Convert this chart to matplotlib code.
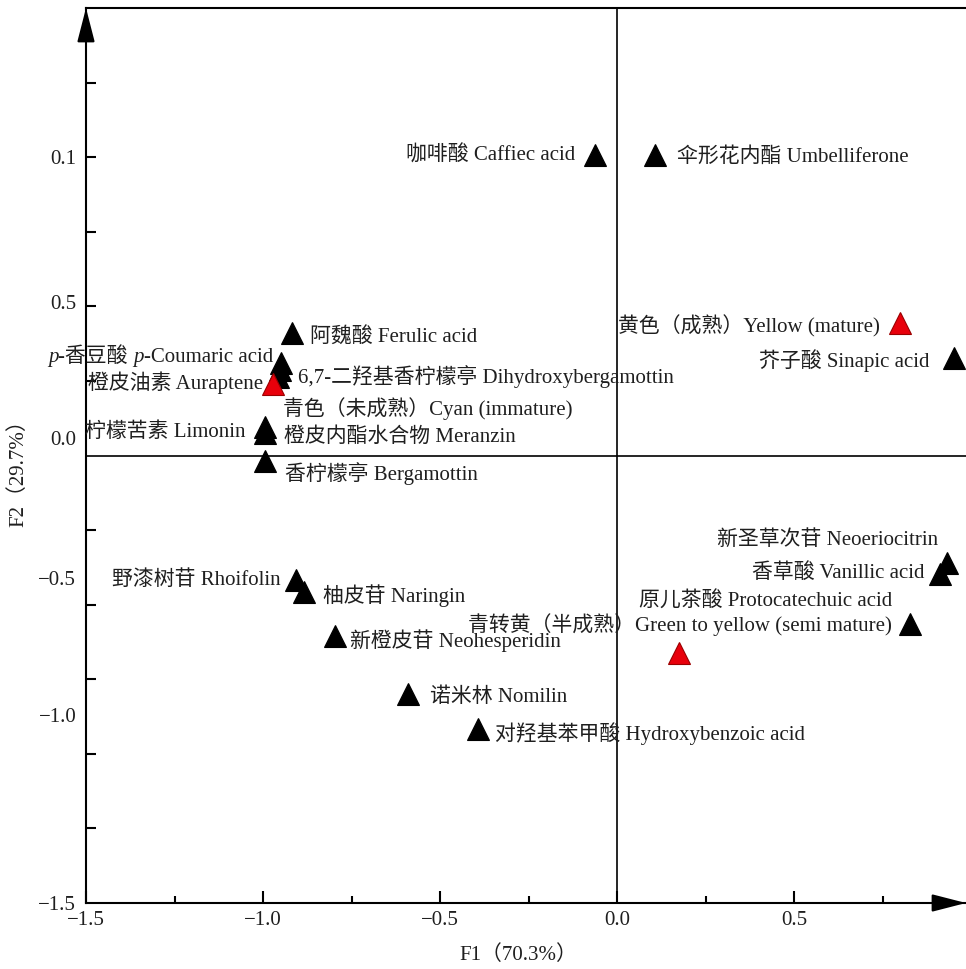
import matplotlib
matplotlib.use('Agg')
import matplotlib.pyplot as plt
from matplotlib.offsetbox import TextArea, HPacker, AnnotationBbox

plt.rcParams['font.family'] = ['Liberation Serif', 'Noto Sans CJK SC']
plt.rcParams['axes.unicode_minus'] = True

# ---------------- data ----------------
compounds = ['咖啡酸 Caffiec acid', '伞形花内酯 Umbelliferone', '阿魏酸 Ferulic acid',
             'p-香豆酸 p-Coumaric acid', '6,7-二羟基香柠檬亭 Dihydroxybergamottin',
             '橙皮油素 Auraptene', '柠檬苦素 Limonin', '橙皮内酯水合物 Meranzin',
             '香柠檬亭 Bergamottin', '芥子酸 Sinapic acid', '新圣草次苷 Neoeriocitrin',
             '香草酸 Vanillic acid', '原儿茶酸 Protocatechuic acid', '野漆树苷 Rhoifolin',
             '柚皮苷 Naringin', '新橙皮苷 Neohesperidin', '诺米林 Nomilin',
             '对羟基苯甲酸 Hydroxybenzoic acid']
compound_f1 = [-0.062, 0.107, -0.919, -0.950, -0.953, -0.959, -0.995, -0.995, -0.995,
               0.950, 0.931, 0.911, 0.826, -0.908, -0.883, -0.798, -0.592, -0.392]
compound_f2 = [1.007, 1.007, 0.409, 0.309, 0.285, 0.262, 0.097, 0.074, -0.020,
               0.326, -0.362, -0.396, -0.564, -0.416, -0.456, -0.604, -0.799, -0.916]

samples = ['青色（未成熟）Cyan (immature)', '黄色（成熟）Yellow (mature)',
           '青转黄（半成熟）Green to yellow (semi mature)']
sample_f1 = [-0.973, 0.798, 0.175]
sample_f2 = [0.238, 0.443, -0.661]

xtick_values = [-1.5, -1.0, -0.5, 0.0, 0.5]
xtick_labels = ['−1.5', '−1.0', '−0.5', '0.0', '0.5']
ytick_label_pos = [1.0, 0.515, 0.06, -0.41, -0.87, -1.5]
ytick_labels = ['0.1', '0.5', '0.0', '−0.5', '−1.0', '−1.5']
xlabel = 'F1（70.3%）'
ylabel = 'F2（29.7%）'

# ---------------- layout (label offsets in pixels: dx, dy-down, ha) ----------------
compound_label_offsets = [(-20, 0, 'right'), (22, 2, 'left'), (18, 3, 'left'),
                          (-8, -6, 'right'), (18, 6, 'left'), (-14, 5, 'right'),
                          (-19, 6, 'right'), (19, 4, 'left'), (20, 12, 'left'),
                          (-24, 2, 'right'), (-9, -23, 'right'), (-15, -1, 'right'),
                          (-17, -22, 'right'), (-15, 0, 'right'), (19, 4, 'left'),
                          (15, 5, 'left'), (22, 3, 'left'), (17, 5, 'left')]
sample_label_offsets = [(10, 24, 'left'), (-20, 3, 'right'), (213, -28, 'right')]

FS = 15
TXT = '#1f1f1f'
PX = 72.0 / 100.0  # points per pixel

fig = plt.figure(figsize=(9.66, 9.69), dpi=100)
ax = fig.add_axes([86 / 966, 1 - 903 / 969, (966 - 86) / 966, (903 - 8) / 969])
ax.set_xlim(-1.5, 0.985)
ax.set_ylim(-1.5, 1.5)

# spines
for s in ['left', 'bottom', 'top']:
    ax.spines[s].set_linewidth(1.5)
    ax.spines[s].set_color('black')
ax.spines['right'].set_visible(False)

# reference lines
ax.axhline(0, color='black', lw=1.2, zorder=1)
ax.axvline(0, color='black', lw=1.2, zorder=1)

# ticks
ax.xaxis.remove_overlapping_locs = False
ax.yaxis.remove_overlapping_locs = False
ax.set_xticks(xtick_values)
ax.set_xticklabels(xtick_labels)
ax.set_xticks([-1.25, -0.75, -0.25, 0.25, 0.75], minor=True)
ax.tick_params(axis='x', which='major', direction='in', length=9, width=1.5,
               labelsize=FS, pad=6, colors='black', labelcolor=TXT)
ax.tick_params(axis='x', which='minor', direction='in', length=5, width=1.5)

ax.set_yticks(ytick_label_pos)
ax.set_yticklabels(ytick_labels)
ax.set_yticks([-1.25, -1.0, -0.75, -0.5, -0.25, 0.25, 0.5, 0.75, 1.0, 1.25], minor=True)
ax.tick_params(axis='y', which='major', length=0, labelsize=FS, pad=7, labelcolor=TXT)
ax.tick_params(axis='y', which='minor', direction='in', length=7, width=1.5)

ax.set_xlabel(xlabel, fontsize=FS, color=TXT)
ax.set_ylabel(ylabel, fontsize=FS, color=TXT)
ax.xaxis.label.set_va('center')
ax.yaxis.label.set_va('center')
ax.xaxis.set_label_coords(0.491, -0.058)
ax.yaxis.set_label_coords(-0.077, 0.486)

# axis arrows
arrow_style = '-|>,head_length=1.05,head_width=0.27'
ax.annotate('', xy=(0, 1), xycoords='axes fraction', xytext=(0, -22), textcoords='offset points',
            arrowprops=dict(arrowstyle=arrow_style, mutation_scale=20, color='black',
                            lw=1.5, shrinkA=0, shrinkB=0), annotation_clip=False)
ax.annotate('', xy=(1, 0), xycoords='axes fraction', xytext=(-22, 0), textcoords='offset points',
            arrowprops=dict(arrowstyle=arrow_style, mutation_scale=20, color='black',
                            lw=1.5, shrinkA=0, shrinkB=0), annotation_clip=False)

# points
ax.plot(compound_f1, compound_f2, linestyle='none', marker='^', markersize=15.5,
        color='black', markeredgewidth=0.8, zorder=3, clip_on=False)
ax.plot(sample_f1, sample_f2, linestyle='none', marker='^', markersize=15.5,
        markerfacecolor='#e8000b', markeredgecolor='#9a0000', markeredgewidth=0.8,
        zorder=4, clip_on=False)


def rich_label(x, y, pieces, dx, dy, ha):
    boxes = [TextArea(t, textprops=dict(fontsize=FS, color=TXT, **p)) for t, p in pieces]
    pack = HPacker(children=boxes, align='baseline', pad=0, sep=0)
    ab = AnnotationBbox(pack, (x, y), xybox=(dx * PX, -dy * PX), xycoords='data',
                        boxcoords='offset points', frameon=False, pad=0,
                        box_alignment=(1.0 if ha == 'right' else 0.0, 0.5))
    ax.add_artist(ab)


def label(x, y, text, off):
    dx, dy, ha = off
    if text.startswith('p-'):
        cn, en = text.split(' ', 1)
        pieces = [('p', dict(style='italic')), (cn[1:] + ' ', {}),
                  ('p', dict(style='italic')), (en[1:], {})]
        rich_label(x, y, pieces, dx, dy, ha)
        return
    ax.annotate(text, (x, y), xytext=(dx * PX, -dy * PX), textcoords='offset points',
                ha=ha, va='center', fontsize=FS, color=TXT, zorder=5,
                annotation_clip=False)


for name, x, y, off in zip(compounds, compound_f1, compound_f2, compound_label_offsets):
    label(x, y, name, off)
for name, x, y, off in zip(samples, sample_f1, sample_f2, sample_label_offsets):
    label(x, y, name, off)

fig.savefig('out.png', dpi=100)
